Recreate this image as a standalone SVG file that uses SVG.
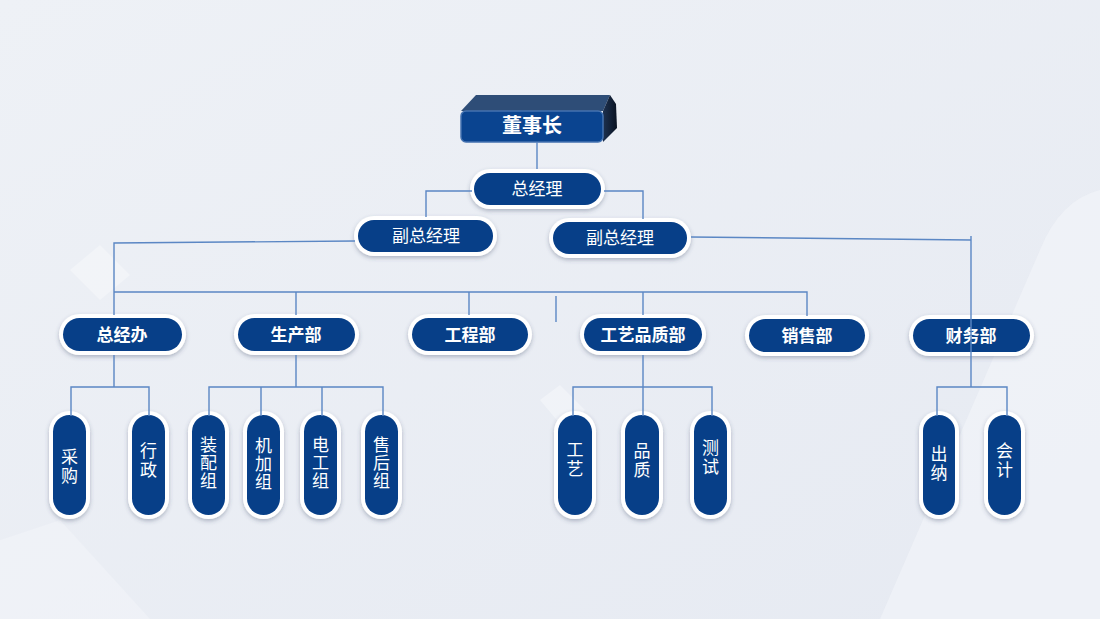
<svg xmlns="http://www.w3.org/2000/svg" width="1100" height="619" viewBox="0 0 1100 619">
<style>
.w{fill:#ffffff;filter:url(#sh)}
.b{fill:#073f88}
.t{fill:#ffffff;font-family:"Noto Sans CJK SC","Noto Sans",sans-serif;font-size:17px;text-anchor:middle}
.tb{font-weight:bold}
.v{fill:#ffffff;font-family:"Noto Sans CJK SC","Noto Sans",sans-serif;font-size:17px;text-anchor:middle;writing-mode:vertical-rl;letter-spacing:2px}
.v3{letter-spacing:1px}
.c{fill:none;stroke:#5b87c4;stroke-width:1.4}
</style>
<defs>
<filter id="sh" x="-30%" y="-30%" width="160%" height="170%">
<feDropShadow dx="0" dy="2" stdDeviation="2" flood-color="#3a4a66" flood-opacity="0.35"/>
</filter>
<linearGradient id="bg" x1="0" y1="0" x2="1" y2="1">
<stop offset="0" stop-color="#eef1f6"/>
<stop offset="1" stop-color="#e6eaf2"/>
</linearGradient>
<linearGradient id="side" x1="0" y1="0" x2="1" y2="0">
<stop offset="0" stop-color="#1d3150"/>
<stop offset="1" stop-color="#0a1322"/>
</linearGradient>
</defs>
<rect width="1100" height="619" fill="url(#bg)"/>
<g id="background" opacity="0.5">
<path d="M880 619 L1040 250 Q1060 200 1100 190 L1100 619 Z" fill="#f6f8fb"/>
<path d="M0 540 L60 520 L150 619 L0 619 Z" fill="#f3f5f9"/>
<path d="M70 270 L100 245 L130 275 L100 300 Z" fill="#f7f9fc"/>
<path d="M540 400 L560 385 L585 410 L565 430 Z" fill="#f7f9fc"/>
</g>

<g id="dongshizhang">
<polygon points="461,111 476,95 610,95 603,111" fill="#2e4d77"/>
<polygon points="603,111 610,95 616,104 617,128 603,142" fill="url(#side)"/>
<rect x="461" y="111" width="142" height="31" rx="5" fill="#0a4490" stroke="#4472b0" stroke-width="1.5"/>
<text class="t tb" x="532" y="133" style="font-size:20px">董事长</text>
</g>

<g id="zongjingli">
<rect class="w" x="470" y="169" width="135" height="40" rx="20"/>
<rect class="b" x="474" y="173" width="127" height="32" rx="16"/>
<text class="t" x="537" y="195">总经理</text>
</g>

<g id="fuzongjingli-1">
<rect class="w" x="354" y="216" width="143" height="40" rx="20"/>
<rect class="b" x="358" y="220" width="135" height="32" rx="16"/>
<text class="t" x="426" y="242">副总经理</text>
</g>

<g id="fuzongjingli-2">
<rect class="w" x="549" y="218" width="142" height="40" rx="20"/>
<rect class="b" x="553" y="222" width="134" height="32" rx="16"/>
<text class="t" x="620" y="244">副总经理</text>
</g>

<g id="zongjingban">
<rect class="w" x="59" y="314" width="127" height="41" rx="20.5"/>
<rect class="b" x="63" y="318" width="119" height="33" rx="16.5"/>
<text class="t tb" x="122" y="341">总经办</text>
</g>
<g id="shengchanbu">
<rect class="w" x="234" y="314" width="125" height="41" rx="20.5"/>
<rect class="b" x="238" y="318" width="117" height="33" rx="16.5"/>
<text class="t tb" x="296" y="341">生产部</text>
</g>
<g id="gongchengbu">
<rect class="w" x="408" y="314" width="124" height="41" rx="20.5"/>
<rect class="b" x="412" y="318" width="116" height="33" rx="16.5"/>
<text class="t tb" x="470" y="341">工程部</text>
</g>
<g id="gongyipinzhibu">
<rect class="w" x="580" y="314" width="126" height="41" rx="20.5"/>
<rect class="b" x="584" y="318" width="118" height="33" rx="16.5"/>
<text class="t tb" x="643" y="341">工艺品质部</text>
</g>
<g id="xiaoshoubu">
<rect class="w" x="745" y="315" width="124" height="41" rx="20.5"/>
<rect class="b" x="749" y="319" width="116" height="33" rx="16.5"/>
<text class="t tb" x="807" y="342">销售部</text>
</g>
<g id="caiwubu">
<rect class="w" x="909" y="315" width="125" height="41" rx="20.5"/>
<rect class="b" x="913" y="319" width="117" height="33" rx="16.5"/>
<text class="t tb" x="971" y="342">财务部</text>
</g>

<g id="caigou">
<rect class="w" x="49" y="411" width="41" height="108" rx="20.5"/>
<rect class="b" x="53" y="415" width="33" height="100" rx="16.5"/>
<text class="v" x="69.5" y="467">采购</text>
</g>
<g id="xingzheng">
<rect class="w" x="128" y="411" width="41" height="108" rx="20.5"/>
<rect class="b" x="132" y="415" width="33" height="100" rx="16.5"/>
<text class="v" x="148.5" y="461">行政</text>
</g>
<g id="zhuangpeizu">
<rect class="w" x="188" y="411" width="41" height="108" rx="20.5"/>
<rect class="b" x="192" y="415" width="33" height="100" rx="16.5"/>
<text class="v v3" x="208.5" y="463">装配组</text>
</g>
<g id="jijiazu">
<rect class="w" x="243" y="411" width="41" height="108" rx="20.5"/>
<rect class="b" x="247" y="415" width="33" height="100" rx="16.5"/>
<text class="v v3" x="263.5" y="464">机加组</text>
</g>
<g id="diangongzu">
<rect class="w" x="300" y="411" width="41" height="108" rx="20.5"/>
<rect class="b" x="304" y="415" width="33" height="100" rx="16.5"/>
<text class="v v3" x="320.5" y="463">电工组</text>
</g>
<g id="shouhouzu">
<rect class="w" x="361" y="411" width="41" height="108" rx="20.5"/>
<rect class="b" x="365" y="415" width="33" height="100" rx="16.5"/>
<text class="v v3" x="381.5" y="463">售后组</text>
</g>
<g id="gongyi">
<rect class="w" x="554" y="411" width="42" height="108" rx="20.5"/>
<rect class="b" x="558" y="415" width="34" height="100" rx="17"/>
<text class="v" x="575" y="460">工艺</text>
</g>
<g id="pinzhi">
<rect class="w" x="621" y="411" width="42" height="108" rx="20.5"/>
<rect class="b" x="625" y="415" width="34" height="100" rx="17"/>
<text class="v" x="642" y="461">品质</text>
</g>
<g id="ceshi">
<rect class="w" x="690" y="411" width="41" height="108" rx="20.5"/>
<rect class="b" x="694" y="415" width="33" height="100" rx="16.5"/>
<text class="v" x="710.5" y="458">测试</text>
</g>
<g id="chuna">
<rect class="w" x="919" y="411" width="40" height="108" rx="20"/>
<rect class="b" x="923" y="415" width="32" height="100" rx="16"/>
<text class="v" x="939" y="464">出纳</text>
</g>
<g id="kuaiji">
<rect class="w" x="984" y="411" width="41" height="108" rx="20.5"/>
<rect class="b" x="988" y="415" width="33" height="100" rx="16.5"/>
<text class="v" x="1004.5" y="461">会计</text>
</g>

<g id="connectors" class="c">
<path d="M537 142 V169"/>
<path d="M472 191 H426 V217"/>
<path d="M604 191 H643 V219"/>
<path d="M355 241 L114 243 V315"/>
<path d="M114 292 H807 V316"/>
<path d="M296 292 V315"/>
<path d="M469 292 V315"/>
<path d="M643 292 V315"/>
<path d="M556 296 V322"/>
<path d="M691 237 L971 240"/>
<path d="M971 236 V387"/>
<path d="M114 355 V387 M71 416 V387 H149 V416"/>
<path d="M296 355 V387 M209 416 V387 H383 V416 M261 387 V416 M322 387 V416"/>
<path d="M643 355 V416 M573 416 V387 H712 V416"/>
<path d="M937 416 V387 H1007 V416"/>
</g>
</svg>
